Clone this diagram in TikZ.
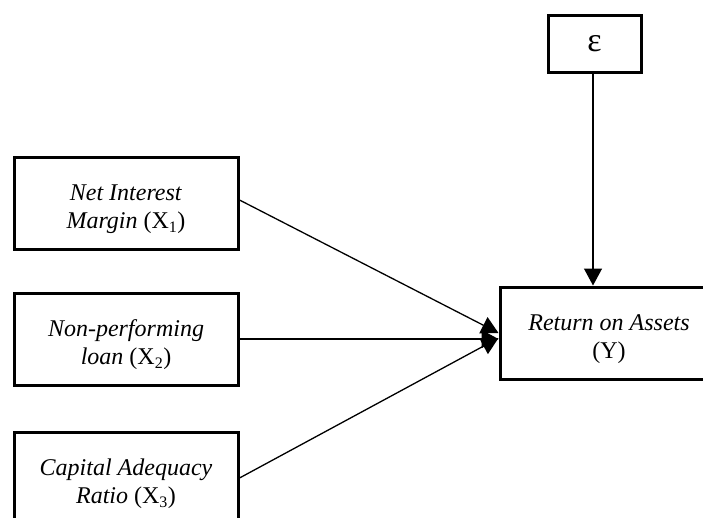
\documentclass[tikz,border=0pt]{standalone}
\usepackage{fontspec}
\setmainfont{Liberation Serif}
\usetikzlibrary{arrows.meta}
\tikzset{
  boxnode/.style={draw, line width=3pt, align=center, inner sep=0pt,
    font=\fontsize{24}{28}\selectfont},
  link/.style={line width=1.3pt, -{Triangle[length=17pt,width=18pt]}},
}
\newcommand{\sbs}[1]{\textsubscript{\fontsize{16}{16}\selectfont #1}}
\newcommand{\tstrut}{\rule{0pt}{28pt}}
\begin{document}
\begin{tikzpicture}[x=1pt,y=1pt]
\useasboundingbox (0,0) rectangle (703,-517);
\begin{scope}
\clip (0,0) rectangle (703,-517);
\node[boxnode, minimum width=224pt, minimum height=92pt] (nim) at (126,-203)
  {\tstrut\textit{Net Interest}\\\textit{Margin} (X\sbs{1})};
\node[boxnode, minimum width=224pt, minimum height=92pt] (npl) at (126,-339)
  {\tstrut\textit{Non-performing}\\\textit{loan} (X\sbs{2})};
\node[boxnode, minimum width=224pt, minimum height=92pt] (car) at (126,-478)
  {\tstrut\textit{Capital Adequacy}\\\textit{Ratio} (X\sbs{3})};
\node[boxnode, minimum width=93pt, minimum height=57pt, font=\fontsize{34}{34}\selectfont] (eps) at (594.5,-43.5) {ε};
\node[boxnode, minimum width=218pt, minimum height=92pt] (roa) at (609,-333)
  {\tstrut\textit{Return on Assets}\\(Y)};
\draw[link] ([yshift=3pt]nim.east) -- ([yshift=0pt]roa.west);
\draw[link] (npl.east) -- ([yshift=-6pt]roa.west);
\draw[link] (car.east) -- ([yshift=-5pt]roa.west);
\draw[link] ([xshift=-1.5pt]eps.south) -- ([xshift=-1.5pt]eps.south |- roa.north);
\end{scope}
\end{tikzpicture}
\end{document}
